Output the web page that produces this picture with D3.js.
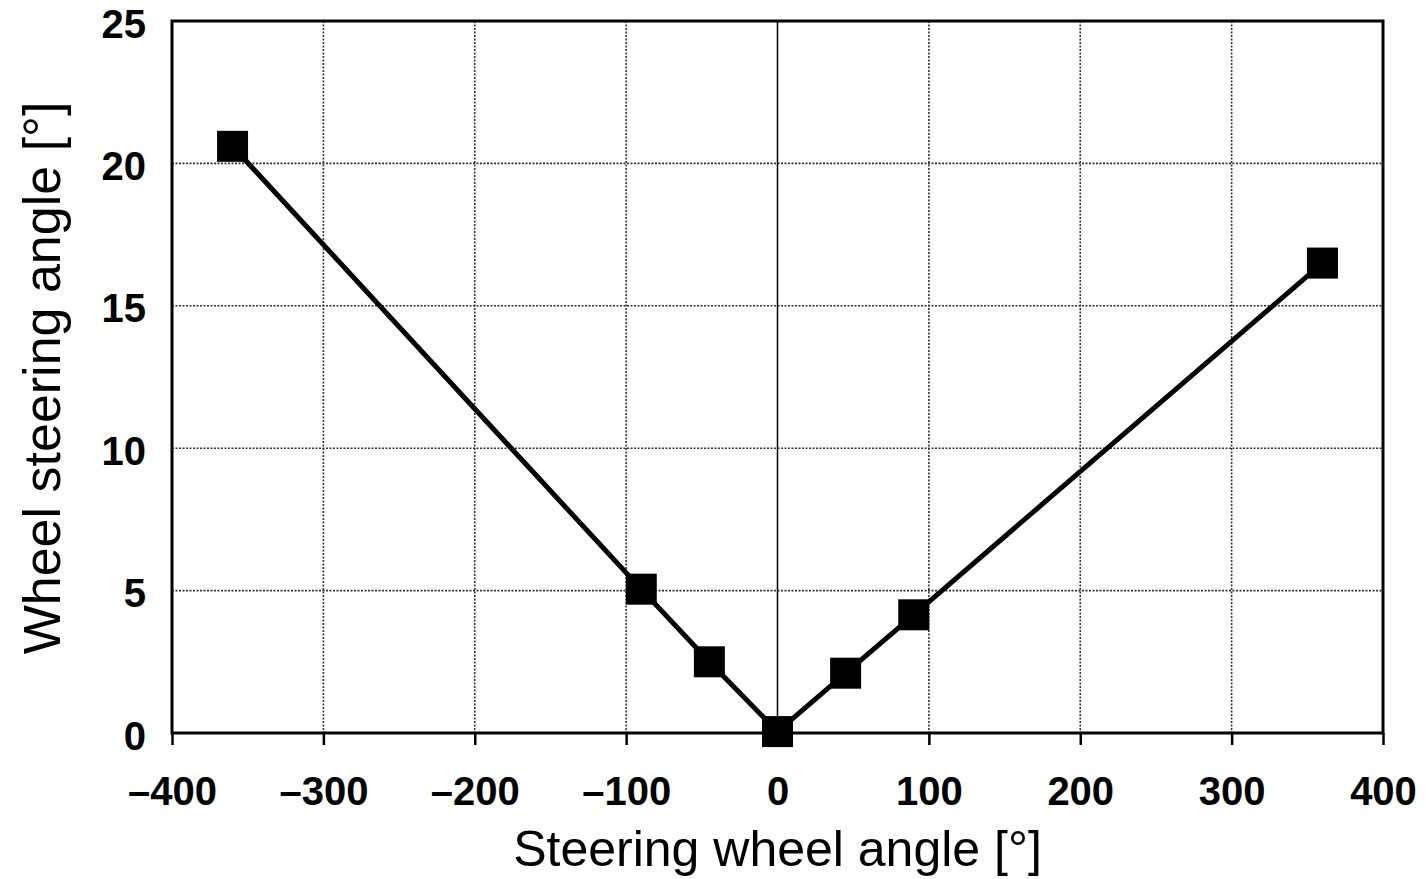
<!DOCTYPE html>
<html lang="en">
<head>
  <meta charset="utf-8">
  <title>Wheel steering angle</title>
  <script src="https://d3js.org/d3.v7.min.js"></script>
  <style>
    body { margin: 0; background: #fff; }
    text { font-family: "Liberation Sans", Arial, sans-serif; fill: #000; }
  </style>
</head>
<body>
  <script>
    // data
    var steeringWheel = [-360, -90, -45, 0, 45, 90, 360];
    var wheelAngle = [20.6, 5.05, 2.5, 0.05, 2.1, 4.15, 16.5];
    var xTicks = [-400, -300, -200, -100, 0, 100, 200, 300, 400];
    var yTicks = [0, 5, 10, 15, 20, 25];

    var W = 1426, H = 879;
    var pLeft = 172, pRight = 1383, pTop = 21, pBottom = 733;

    var svg = d3.select('body').append('svg')
      .attr('width', W)
      .attr('height', H);

    var x = d3.scaleLinear().domain([-400, 400]).range([pLeft, pRight]);
    var y = d3.scaleLinear().domain([0, 25]).range([pBottom, pTop]);

    // grid (dotted)
    svg.selectAll('.vgrid')
      .data(xTicks.filter(function(d){ return d !== 0 && d !== -400 && d !== 400; }))
    .enter().append('line')
      .attr('x1', function(d){ return x(d); })
      .attr('x2', function(d){ return x(d); })
      .attr('y1', pTop).attr('y2', pBottom)
      .attr('stroke', '#333').attr('stroke-width', 1.6)
      .attr('stroke-dasharray', '2,1.5');
    svg.selectAll('.hgrid')
      .data(yTicks.filter(function(d){ return d !== 0 && d !== 25; }))
    .enter().append('line')
      .attr('x1', pLeft).attr('x2', pRight)
      .attr('y1', function(d){ return y(d); })
      .attr('y2', function(d){ return y(d); })
      .attr('stroke', '#333').attr('stroke-width', 1.6)
      .attr('stroke-dasharray', '2,1.5');

    // zero line
    svg.append('line')
      .attr('x1', x(0)).attr('x2', x(0))
      .attr('y1', pTop).attr('y2', pBottom)
      .attr('stroke', '#000').attr('stroke-width', 1.5);

    // frame
    svg.append('rect')
      .attr('x', pLeft).attr('y', pTop)
      .attr('width', pRight - pLeft).attr('height', pBottom - pTop)
      .attr('fill', 'none').attr('stroke', '#000').attr('stroke-width', 3);

    // x axis with ticks pointing down
    var xAxis = d3.axisBottom(x).tickValues(xTicks).tickSize(12).tickPadding(32)
      .tickFormat(function(d){ return d < 0 ? '\u2013' + Math.abs(d) : d; });
    var gx = svg.append('g').attr('transform', 'translate(0,' + pBottom + ')').call(xAxis);
    gx.select('.domain').remove();
    gx.selectAll('line').attr('stroke', '#000').attr('stroke-width', 2.5);
    gx.selectAll('text').style('font-size', '40px').style('font-weight', 'bold')
      .attr('fill', '#000').attr('font-family', null);

    // y axis labels only
    var yAxis = d3.axisLeft(y).tickValues(yTicks).tickSize(0).tickPadding(26);
    var gy = svg.append('g').attr('transform', 'translate(' + pLeft + ',0)').call(yAxis);
    gy.select('.domain').remove();
    gy.selectAll('text').style('font-size', '40px').style('font-weight', 'bold')
      .attr('fill', '#000').attr('font-family', null).attr('dy', '0.4em');

    // line
    var pts = steeringWheel.map(function(d, i){ return [d, wheelAngle[i]]; });
    var line = d3.line()
      .x(function(d){ return x(d[0]); })
      .y(function(d){ return y(d[1]); });
    svg.append('path')
      .datum(pts)
      .attr('d', line)
      .attr('fill', 'none')
      .attr('stroke', '#000')
      .attr('stroke-width', 5)
      .attr('stroke-linejoin', 'round');

    // square markers
    var s = 31;
    svg.selectAll('.marker')
      .data(pts)
    .enter().append('rect')
      .attr('x', function(d){ return x(d[0]) - s / 2; })
      .attr('y', function(d){ return y(d[1]) - s / 2; })
      .attr('width', s).attr('height', s)
      .attr('fill', '#000');

    // titles
    svg.append('text')
      .attr('x', (pLeft + pRight) / 2)
      .attr('y', 866)
      .attr('text-anchor', 'middle')
      .style('font-size', '50px')
      .text('Steering wheel angle [°]');
    svg.append('text')
      .attr('transform', 'translate(60,378) rotate(-90)')
      .attr('text-anchor', 'middle')
      .style('font-size', '52px')
      .text('Wheel steering angle [°]');
  </script>
</body>
</html>
